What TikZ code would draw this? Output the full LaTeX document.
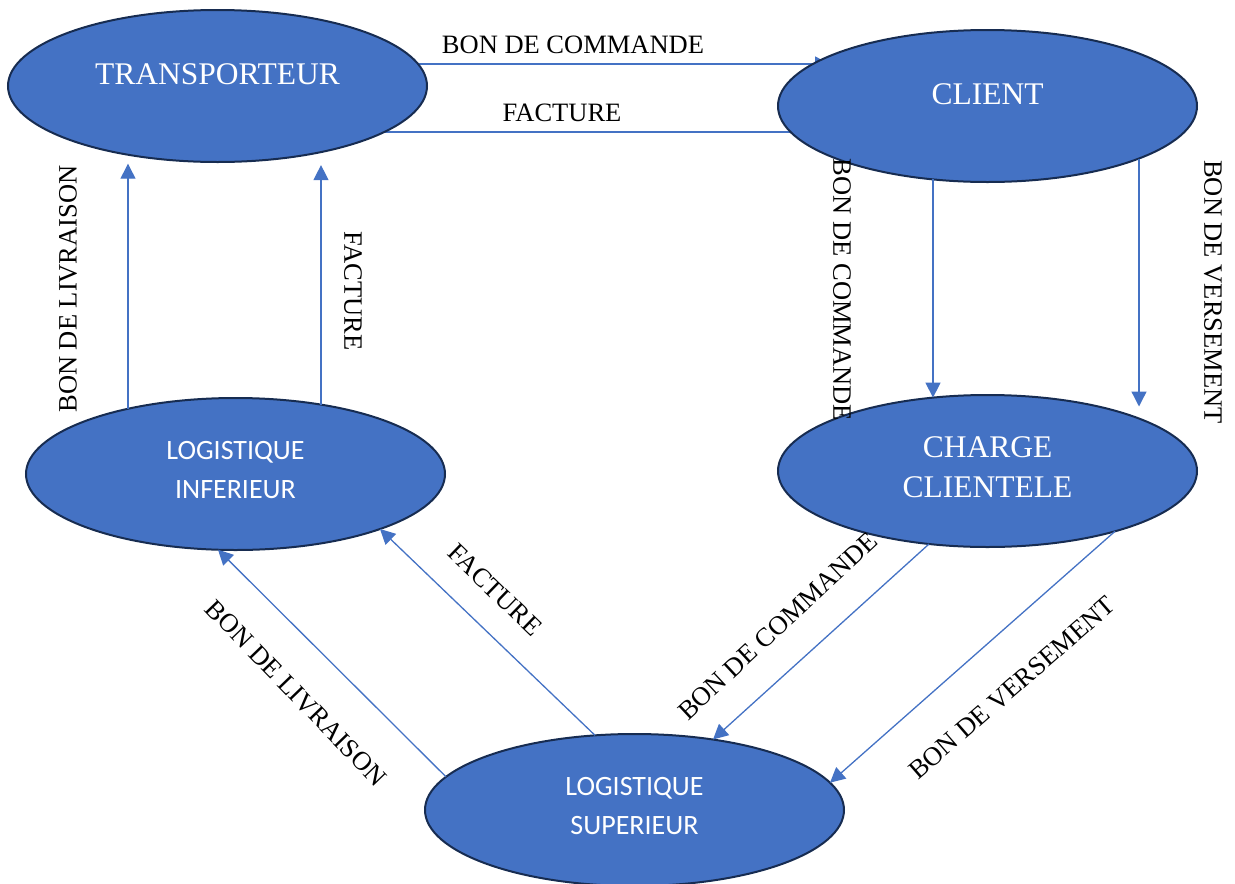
\documentclass[tikz,border=0pt]{standalone}
\usepackage{fontspec}
\setmainfont{Liberation Serif}
\newfontfamily\calfont{Carlito}
\usetikzlibrary{arrows.meta,shapes.geometric,backgrounds}
\definecolor{fillblue}{HTML}{4472C4}
\definecolor{navy}{HTML}{172C51}
\tikzset{
  ent/.style={ellipse,draw=navy,line width=2pt,fill=fillblue,text=white,
    minimum width=419pt,minimum height=152pt,inner sep=0pt,outer sep=0pt,
    align=center,font=\fontsize{31.5}{40}\selectfont},
  entsans/.style={ent,text depth=8pt,font=\calfont\fontsize{28}{39.5}\selectfont},
  con/.style={draw=fillblue,line width=1.3pt},
  arr/.style={con,-{Triangle[width=15pt,length=15pt]}},
  lab/.style={inner sep=0pt,font=\fontsize{26.5}{30}\selectfont}
}
\begin{document}
\begin{tikzpicture}[x=1pt,y=-1pt]
\useasboundingbox (0,0) rectangle (1235,884);
% entities
\node[ent] (tr) at (217.5,86) {\raisebox{1.6pt}[0pt][0pt]{TRANSPORTEUR}};
\node[ent] (cl) at (987.5,106) {\raisebox{1.6pt}[0pt][0pt]{CLIENT}};
\node[entsans] (li) at (235.5,474) {LOGISTIQUE\\INFERIEUR};
\node[ent,text depth=7pt] (cc) at (987.5,471) {CHARGE\\CLIENTELE};
\node[entsans] (ls) at (634.5,810) {LOGISTIQUE\\SUPERIEUR};
% top connectors (behind the ellipses)
\begin{scope}[on background layer]
\draw[arr] ([xshift=-30pt,yshift=22pt]tr.east) -- ([xshift=52pt,yshift=42pt]cl.west);
\draw[con] ([xshift=-60pt,yshift=-46pt]tr.east) -- ([xshift=30pt,yshift=-26pt]cl.west);
\end{scope}
% vertical connectors
\draw[arr,shorten >=9pt] ([xshift=-107.5pt,yshift=65.2pt]li.center) -- ([xshift=-89.5pt,yshift=-68.7pt]tr.center);
\draw[arr,shorten >=13pt] ([xshift=85.5pt,yshift=69.4pt]li.center) -- ([xshift=103.5pt,yshift=-66.1pt]tr.center);
\draw[arr] ([xshift=-54.5pt,yshift=-73.4pt]cl.center) -- ([xshift=-54.5pt,yshift=73.4pt]cc.center);
\draw[arr,shorten >=12pt] ([xshift=151.5pt,yshift=-52.5pt]cl.center) -- ([xshift=151.5pt,yshift=52.5pt]cc.center);
% diagonal connectors
\draw[arr] ([xshift=-188.5pt,yshift=33.2pt]ls.center) -- ([xshift=-17.5pt,yshift=-75.7pt]li.center);
\draw[arr] ([xshift=-39.5pt,yshift=74.7pt]ls.center) -- ([xshift=144.5pt,yshift=-55pt]li.center);
\draw[arr] ([xshift=-58.5pt,yshift=-73pt]cc.center) -- ([xshift=78.5pt,yshift=70.5pt]ls.center);
\draw[arr] ([xshift=127.5pt,yshift=-60.3pt]cc.center) -- ([xshift=195.5pt,yshift=27.3pt]ls.center);
% labels
\node[lab] (l1) at (573,45) {BON DE COMMANDE};
\node[lab] (l2) at (562,113) {FACTURE};
\node[lab,rotate=90] (l3) at (68,289) {BON DE LIVRAISON};
\node[lab,rotate=-90] (l4) at (353,291) {FACTURE};
\node[lab,rotate=-90] (l5) at (842,290) {BON DE COMMANDE};
\node[lab,rotate=-90] (l6) at (1213,292) {BON DE VERSEMENT};
\node[lab,rotate=-44] (l7) at (495,590) {FACTURE};
\node[lab,rotate=-46] (l8) at (296,693) {BON DE LIVRAISON};
\node[lab,rotate=43] (l9) at (778,626) {BON DE COMMANDE};
\node[lab,rotate=41] (l10) at (1012,688) {BON DE VERSEMENT};
\end{tikzpicture}
\end{document}
